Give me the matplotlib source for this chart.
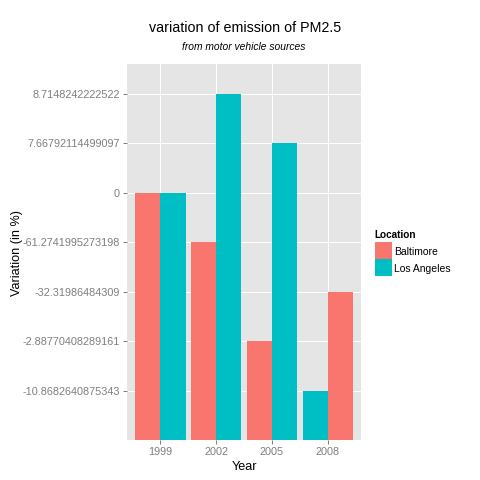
import matplotlib
matplotlib.use("Agg")
import matplotlib.pyplot as plt
from matplotlib.patches import Rectangle
import numpy as np

years = ['1999', '2002', '2005', '2008']
baltimore = ['0', '-61.2741995273198', '-2.88770408289161', '-32.31986484309']
los_angeles = ['0', '8.7148242222522', '7.66792114499097', '-10.8682640875343']
locations = ['Baltimore', 'Los Angeles']
colors = {'Baltimore': '#F8766D', 'Los Angeles': '#00BFC4'}

# y is a discrete (factor) scale: levels sorted as strings
levels = sorted(set(baltimore + los_angeles))
level_pos = {lv: i + 1 for i, lv in enumerate(levels)}

plt.rcParams['font.family'] = ['Liberation Sans', 'DejaVu Sans']
W = H = 480
fig = plt.figure(figsize=(4.8, 4.8), dpi=100)
px = 0.72  # points per pixel

L, R, T, B = 127, 361, 64, 440
ax = fig.add_axes([L / W, 1 - B / H, (R - L) / W, (B - T) / H])
ax.set_facecolor('#E5E5E5')
for s in ax.spines.values():
    s.set_visible(False)

series = {'Baltimore': baltimore, 'Los Angeles': los_angeles}
width = 0.9
for i, yr in enumerate(years):
    items = [(level_pos[series[loc][i]], li, loc) for li, loc in enumerate(locations)]
    items.sort()
    n = len(items)
    bw = width / n
    for k, (h, li, loc) in enumerate(items):
        xc = (i + 1) - width / 2 + bw * (k + 0.5)
        ax.bar(xc, h, width=bw, color=colors[loc], zorder=3, linewidth=0)

ax.set_xlim(0.4, len(years) + 0.6)
ax.set_ylim(0, len(levels) + 0.6)
ax.set_xticks(np.arange(1, len(years) + 1))
ax.set_xticklabels(years)
ax.set_yticks(np.arange(1, len(levels) + 1))
ax.set_yticklabels(levels)
ax.grid(True, color='white', linewidth=1.0 * px, zorder=0)
ax.set_axisbelow(True)
ax.tick_params(axis='both', colors='#7F7F7F', labelcolor='#7F7F7F',
               length=4 * px, width=1 * px, labelsize=10.9 * px, pad=3 * px)

fig.text(245 / W, 1 - 32 / H, 'variation of emission of PM2.5', ha='center',
         va='baseline', fontsize=14.2 * px, color='black')
fig.text(244 / W, 1 - 50 / H, 'from motor vehicle sources', ha='center',
         va='baseline', fontsize=10.2 * px, style='italic', color='black')
fig.text(244 / W, 1 - 470 / H, 'Year', ha='center', va='baseline',
         fontsize=12.6 * px, color='black')
fig.text(17 / W, 1 - 252.5 / H, 'Variation (in %)', ha='center', va='center',
         rotation=90, fontsize=12.6 * px, color='black')

# legend (guide)
lx, ly0, kw, kh = 374.5, 241.5, 17, 17
fig.text(lx / W, 1 - 238.3 / H, 'Location', ha='left', va='baseline',
         fontsize=10.0 * px, fontweight='bold', color='black')
for j, loc in enumerate(locations):
    top = ly0 + j * kh
    fig.add_artist(Rectangle((lx / W, 1 - (top + kh) / H), kw / W, kh / H,
                             facecolor=colors[loc], edgecolor='none',
                             transform=fig.transFigure))
    fig.text(394 / W, 1 - (top + 13.5) / H, loc, ha='left', va='baseline',
             fontsize=10.4 * px, color='black')

fig.savefig('out.png', dpi=100)
